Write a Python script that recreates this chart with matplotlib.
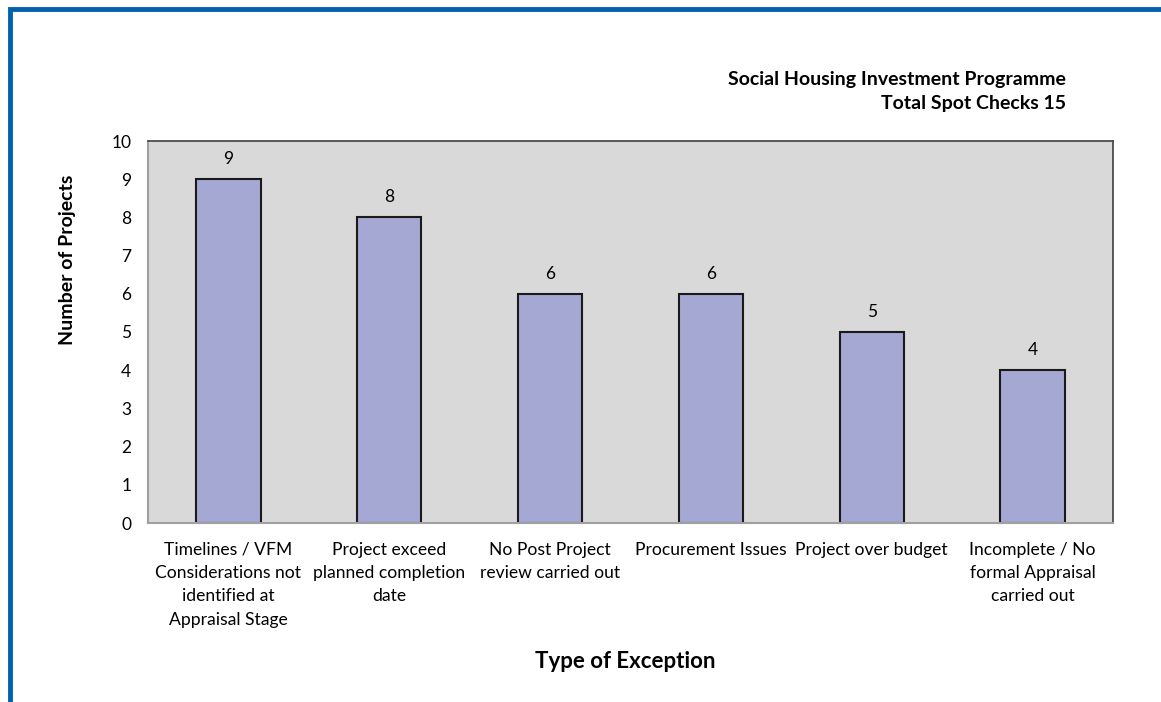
import matplotlib.pyplot as plt
from matplotlib.patches import Rectangle

categories = ['Timelines / VFM\nConsiderations not\nidentified at\nAppraisal Stage',
              'Project exceed\nplanned completion\ndate',
              'No Post Project\nreview carried out',
              'Procurement Issues',
              'Project over budget',
              'Incomplete / No\nformal Appraisal\ncarried out']
counts = [9, 8, 6, 6, 5, 4]

plt.rcParams['font.family'] = ['Lato', 'DejaVu Sans']

fig = plt.figure(figsize=(11.61, 7.02), dpi=100)
ax = fig.add_axes([148/1161, 1 - 523/702, (1113 - 148)/1161, (523 - 141)/702])
ax.set_facecolor('#d9d9d9')

x = range(len(counts))
ax.bar(x, counts, width=0.4, color='#a6a8d4', edgecolor='#1a1a1a', linewidth=1.5)
for xi, c in zip(x, counts):
    ax.annotate(str(c), (xi, c), xytext=(0, 14.5), textcoords='offset points',
                ha='center', va='center', fontsize=12.5)

ax.set_xlim(-0.5, len(counts) - 0.5)
ax.set_ylim(0, 10)
ax.set_yticks(range(0, 11))
ax.set_xticks(list(x))
ax.set_xticklabels(categories, fontsize=12.6, linespacing=1.56)
ax.tick_params(axis='both', length=0)
ax.tick_params(axis='y', labelsize=12.5, pad=12)
ax.tick_params(axis='x', pad=13.5)

for side in ['left', 'bottom']:
    ax.spines[side].set_color('#a0a0a0')
    ax.spines[side].set_linewidth(1.5)
for side in ['top', 'right']:
    ax.spines[side].set_color('#404040')
    ax.spines[side].set_linewidth(1.2)

fig.text(1066/1161, 1 - 79/702, 'Social Housing Investment Programme',
         ha='right', va='center', fontsize=14, fontweight='bold')
fig.text(1066/1161, 1 - 103/702, 'Total Spot Checks 15',
         ha='right', va='center', fontsize=14, fontweight='bold')
fig.text(68/1161, 1 - 260/702, 'Number of Projects', rotation=90,
         ha='center', va='center', fontsize=14, fontweight='bold')
fig.text(625/1161, 1 - 662/702, 'Type of Exception',
         ha='center', va='center', fontsize=16, fontweight='bold')

# blue frame along left and top edge
fig.patches.append(Rectangle((10/1161, -0.1), 1.2, 1 - 8.5/702 + 0.1,
                             transform=fig.transFigure, fill=False,
                             edgecolor='#0061ae', linewidth=3.5))

fig.savefig('out.png', dpi=100)
